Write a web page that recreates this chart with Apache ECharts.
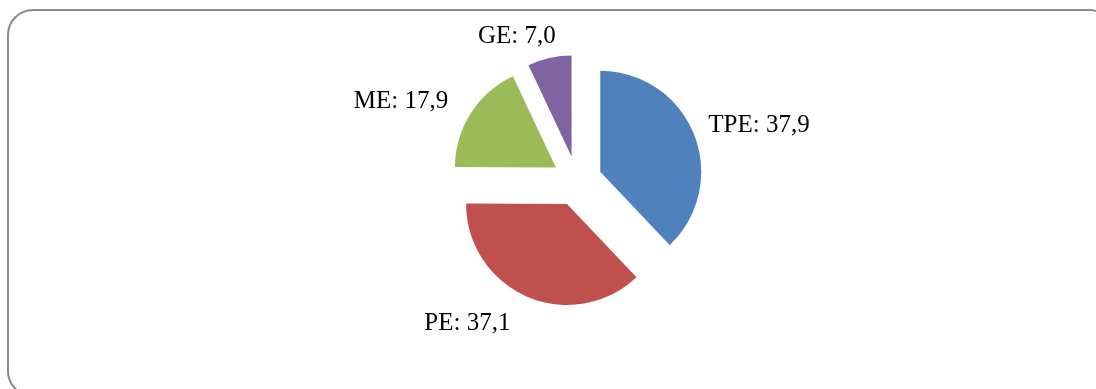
<!DOCTYPE html>
<html>
<head>
<meta charset="utf-8">
<script src="https://cdn.jsdelivr.net/npm/echarts@6/dist/echarts.min.js"></script>
<style>
  html, body { margin: 0; padding: 0; background: #ffffff; }
  #chart { width: 1096px; height: 389px; }
</style>
</head>
<body>
<div id="chart"></div>
<script>
// Share of each component (percent)
const categories = ['TPE', 'PE', 'ME', 'GE'];
const values = [37.9, 37.1, 17.9, 7.0];
const colors = ['#4F81BD', '#C0504D', '#9BBB59', '#8064A2'];

// Per-slice label placement tuning (leader length and gap to text)
const labelTune = {
  TPE: { len: 25, gap: -9 },
  PE:  { len: 29, gap: 5 },
  ME:  { len: 22, gap: 4 },
  GE:  { len: 22, gap: -11 }
};

const fmt = v => v.toFixed(1).replace('.', ',');

const data = categories.map((name, i) => ({
  name: name,
  value: values[i],
  selected: true,
  itemStyle: { color: colors[i] },
  label: { distanceToLabelLine: labelTune[name].gap },
  labelLine: { show: false, length: labelTune[name].len, length2: 0 }
}));

const chart = echarts.init(document.getElementById('chart'), null, { renderer: 'canvas' });

chart.setOption({
  backgroundColor: '#ffffff',
  animation: false,
  graphic: [{
    type: 'rect',
    shape: { x: 8, y: 10, width: 1106, height: 386, r: 25 },
    style: { fill: 'none', stroke: '#8a8a8a', lineWidth: 2 },
    silent: true
  }],
  series: [{
    type: 'pie',
    center: [577, 181],
    radius: 101,
    startAngle: 90,
    clockwise: true,
    selectedMode: 'multiple',
    selectedOffset: 25,
    avoidLabelOverlap: false,
    emphasis: { disabled: true },
    label: {
      show: true,
      position: 'outside',
      fontFamily: '"Liberation Serif", "Times New Roman", serif',
      fontSize: 25,
      color: '#000000',
      formatter: p => p.name + ': ' + fmt(p.value)
    },
    labelLine: { show: false },
    itemStyle: { borderWidth: 0 },
    data: data
  }]
});
</script>
</body>
</html>
